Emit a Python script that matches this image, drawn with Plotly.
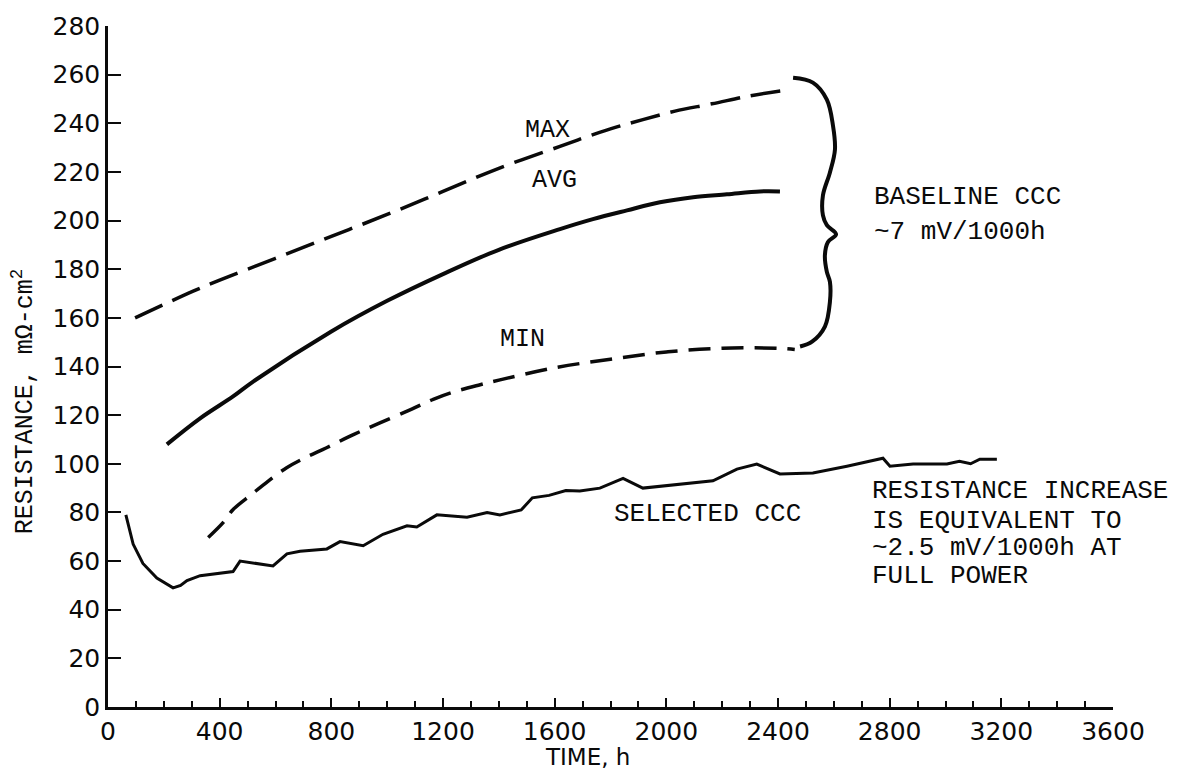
import plotly.graph_objects as go

# ---------------- data ----------------
max_t = [97, 200, 305, 400, 600, 800, 1000, 1200, 1400, 1619, 1716, 1823, 1916, 2031, 2163, 2300, 2418]
max_r = [160, 165.5, 171, 175.5, 184.5, 193.5, 202.5, 212, 221.5, 230.5, 234.5, 238.5, 241.5, 245, 248, 251.3, 253.4]

avg_t = [211, 330, 448, 520, 800, 1000, 1200, 1400, 1619, 1737, 1859, 1977, 2096, 2217, 2335, 2407]
avg_r = [108, 118.7, 127.7, 133.8, 154.4, 167, 178, 188, 196.5, 200.6, 204.2, 207.5, 209.6, 210.8, 212, 212]

min_t = [359, 413, 449, 515, 574, 640, 706, 783, 879, 974, 1088, 1165, 1237, 1333, 1404, 1600, 1800, 2000, 2200, 2400, 2460]
min_r = [69.7, 75.9, 81.3, 87.5, 92.9, 98.4, 102.5, 106.6, 112, 116.8, 122.5, 126.5, 129.5, 132.5, 134.5, 139.5, 143, 146, 147.5, 147.5, 147]

sel_t = [64, 90, 125, 175, 233, 260, 283, 330, 448, 473, 591, 641, 688, 784, 831, 914, 985, 1071, 1106,
         1178, 1286, 1358, 1404, 1480, 1520, 1580, 1640, 1690, 1762, 1845, 1916, 2049, 2167, 2253, 2324,
         2407, 2525, 2647, 2776, 2801, 2884, 3005, 3050, 3090, 3123, 3184]
sel_r = [79, 67, 59, 53, 49, 50, 52, 54, 55.7, 60, 58, 63, 64, 65, 68, 66.3, 71, 74.5, 74,
         79, 78, 80, 79, 81, 86, 87, 89, 88.8, 90, 94, 90, 91.7, 93, 97.8, 99.9,
         95.8, 96.2, 99, 102.3, 99, 99.9, 99.9, 101, 100, 101.9, 101.9]

x_ticks = [0, 400, 800, 1200, 1600, 2000, 2400, 2800, 3200, 3600]
x_tick_text = ["0", "400", "800", "1200", "1600", "2000", "2400", "2800", "3200", "3600"]
y_ticks = list(range(0, 281, 20))

# ---------------- figure ----------------
MONO = "Liberation Mono, Courier New, monospace"
SANS = "DejaVu Sans, Arial, sans-serif"
ink = "#0a0a0a"

fig = go.Figure()
fig.add_trace(go.Scatter(x=max_t, y=max_r, mode="lines", line=dict(color=ink, width=3.5, dash="30px,11px", shape="spline"), hoverinfo="skip"))
fig.add_trace(go.Scatter(x=avg_t, y=avg_r, mode="lines", line=dict(color=ink, width=4, shape="spline"), hoverinfo="skip"))
fig.add_trace(go.Scatter(x=min_t, y=min_r, mode="lines", line=dict(color=ink, width=3.5, dash="22px,11px", shape="spline"), hoverinfo="skip"))
fig.add_trace(go.Scatter(x=sel_t, y=sel_r, mode="lines", line=dict(color=ink, width=3, shape="linear"), hoverinfo="skip"))

# curly brace grouping the baseline curves (decoration, anchored to the MAX series end)
bx0 = max_t[-1]
brace_dx = [36, 107, 157, 179, 186, 168, 143, 143, 157, 190, 161, 150, 157, 168, 168, 150, 104, 61]
brace_y = [258.7, 256.7, 249.7, 239.0, 229.2, 219.8, 210.4, 202.1, 198.1, 194.4, 191.2, 185.8, 178.9, 174.8, 166.6, 156.4, 150.2, 148.2]
fig.add_trace(go.Scatter(x=[bx0 + d for d in brace_dx], y=brace_y, mode="lines",
                         line=dict(color=ink, width=4, shape="spline", smoothing=1.0), hoverinfo="skip"))

fig.update_layout(
    width=1183, height=784,
    margin=dict(l=108, r=70, t=23, b=77),
    paper_bgcolor="white", plot_bgcolor="white",
    showlegend=False,
    font=dict(family=SANS, color=ink),
)
fig.update_xaxes(
    range=[0, 3600], showline=True, linecolor=ink, linewidth=2.5,
    showgrid=False, zeroline=False,
    tickmode="array", tickvals=x_ticks, ticktext=x_tick_text,
    ticks="inside", ticklen=9, tickwidth=2, tickcolor=ink,
    minor=dict(dtick=100, tick0=0, ticks="inside", ticklen=6, tickwidth=2, tickcolor=ink, showgrid=False),
    tickfont=dict(family=SANS, size=25, color=ink),
)
fig.update_yaxes(
    range=[0, 280], showline=True, linecolor=ink, linewidth=2.5,
    showgrid=False, zeroline=False,
    tickmode="array", tickvals=y_ticks,
    ticks="inside", ticklen=13, tickwidth=2, tickcolor=ink,
    tickfont=dict(family=SANS, size=25, color=ink),
)

def label(text, x, y, xanchor="center", size=25, family=MONO, xref="x", yref="y", angle=0):
    fig.add_annotation(text=text, x=x, y=y, xref=xref, yref=yref, xanchor=xanchor, yanchor="middle",
                       showarrow=False, textangle=angle, font=dict(family=family, size=size, color=ink))

label("MAX", 1573, 237)
label("AVG", 1598, 216.5)
label("MIN", 1483, 151)
label("BASELINE CCC", 2737, 209.6, xanchor="left", size=26)
label("~7 mV/1000h", 2737, 195.3, xanchor="left", size=26)
label("SELECTED CCC", 1805, 79.4, xanchor="left", size=26)
label("RESISTANCE INCREASE", 2730, 88.8, xanchor="left", size=26)
label("IS EQUIVALENT TO", 2730, 76.5, xanchor="left", size=26)
label("~2.5 mV/1000h AT", 2730, 65.5, xanchor="left", size=26)
label("FULL POWER", 2730, 54.0, xanchor="left", size=26)

# axis titles
label("RESISTANCE, mΩ-cm<sup>2</sup>", -0.0836, 125.7, xref="paper", yref="y", angle=-90, size=25)
label("TIME, h", 1719, -0.073, xref="x", yref="paper", family=SANS, size=23)

fig.write_html("out.html")
